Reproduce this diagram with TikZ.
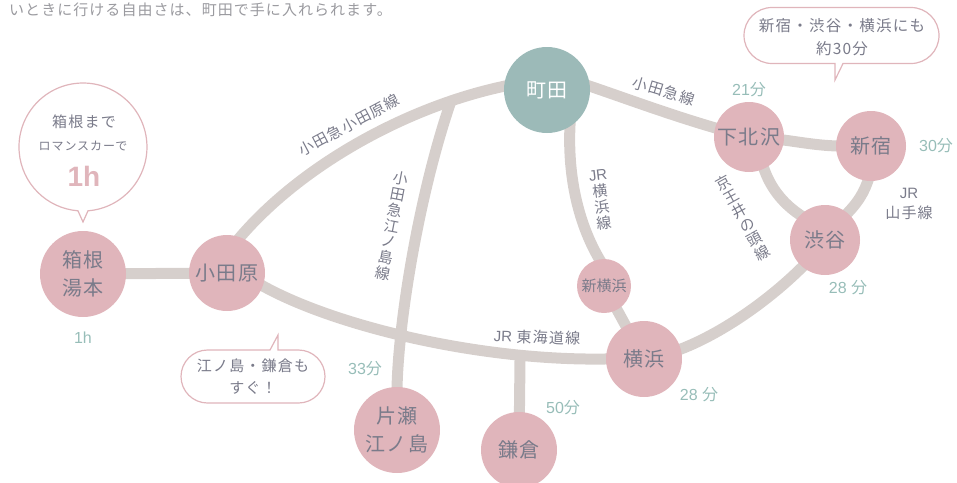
\documentclass[tikz,border=0pt]{standalone}
\usepackage{fontspec}
\setmainfont{Noto Sans CJK JP}
\newfontfamily\latinf{Liberation Sans}
\newfontfamily\jpplain{Noto Sans CJK JP}
\newfontfamily\jplabel[LetterSpace=8]{Noto Sans CJK JP}
\newfontfamily\jptop[LetterSpace=7]{Noto Sans CJK JP}
\usetikzlibrary{backgrounds}
\definecolor{stnpink}{HTML}{E0B5BB}
\definecolor{hubteal}{HTML}{9CBAB8}
\definecolor{railgrey}{HTML}{D6CFCC}
\definecolor{inktext}{HTML}{7A7B8A}
\definecolor{toptext}{HTML}{9A9A9F}
\definecolor{timeteal}{HTML}{97BDB8}
\newcommand{\fen}{{\jpplain 分}}
\tikzset{
  x=1pt,y=-1pt,
  stn/.style={circle,fill=stnpink,draw=none,inner sep=0pt,align=center,text=inktext},
  stnbig/.style={stn,minimum size=86pt,font=\fontsize{20}{28}\selectfont\jplabel},
  stnmid/.style={stn,minimum size=76pt,font=\fontsize{20}{28}\selectfont\jplabel},
  stnsm/.style={stn,minimum size=70pt,font=\fontsize{20}{28}\selectfont\jplabel},
  hub/.style={stnbig,fill=hubteal,text=white},
  rail/.style={draw=railgrey,line width=11pt,shorten <=-5pt,shorten >=-5pt},
  linelabel/.style={text=inktext,inner sep=0pt,align=center,font=\fontsize{15}{16}\selectfont\jplabel},
  timelabel/.style={text=timeteal,inner sep=0pt,font=\fontsize{16}{18}\selectfont\latinf},
  bubble/.style={draw=stnpink,line width=1.2pt,fill=white},
  bubbletext/.style={text=inktext,inner sep=0pt,align=center,font=\fontsize{15}{22}\selectfont\jplabel},
}
\begin{document}
\begin{tikzpicture}
\useasboundingbox (0,0) rectangle (957,482);
% top sentence
\node[anchor=west,text=toptext,inner sep=0pt,font=\fontsize{15}{16}\selectfont\jptop] (intro) at (9,10) {いときに行ける自由さは、町田で手に入れられます。};
% stations
\node[hub] (machida) at (547,90) {町田};
\node[stnsm] (shimo) at (749,137) {下北沢};
\node[stnsm] (shinjuku) at (871,146) {新宿};
\node[stnsm] (shibuya) at (825,240) {渋谷};
\node[stn,minimum size=54pt,font=\fontsize{15}{16}\selectfont] (shinyoko) at (604,286) {新横浜};
\node[stnmid] (yokohama) at (644,359) {横浜};
\node[stnmid] (kamakura) at (519,450) {鎌倉};
\node[stnbig] (katase) at (397,430) {片瀬\\江ノ島};
\node[stnmid] (odawara) at (227,273) {小田原};
\node[stnbig] (hakone) at (83,274) {箱根\\湯本};
\coordinate (enojunc) at (450,104);
\coordinate (kamajunc) at (520,360);
% rails
\begin{scope}[on background layer]
\draw[rail] (hakone) -- (odawara);
\draw[rail] (odawara.70) .. controls (300,165) and (410,105) .. (machida.175);
\draw[rail] (odawara.-20) .. controls (330,325) and (480,362) .. (yokohama.180);
\draw[rail] (katase.90) .. controls (398,320) and (420,190) .. (enojunc);
\draw[rail] (kamakura) -- (kamajunc);
\draw[rail] (machida.5) .. controls (625,98) and (670,115) .. (shimo.165);
\draw[rail] (machida.-58) .. controls (567,175) and (578,225) .. (shinyoko.100);
\draw[rail] (shinyoko) -- (yokohama);
\draw[rail] (yokohama.15) .. controls (720,335) and (770,300) .. (shibuya.-130);
\draw[rail] (shimo.-5) .. controls (800,142) and (820,146) .. (shinjuku.180);
\draw[rail] (shimo.-65) .. controls (768,183) and (780,203) .. (shibuya.135);
\draw[rail] (shinjuku.-95) .. controls (865,192) and (857,204) .. (shibuya.50);
\end{scope}
% line labels
\node[linelabel,rotate=28] (lodawara) at (349,125) {小田急小田原線};
\node[linelabel,rotate=-11] (lenoshima) at (392,226) {小\\田\\急\\江\\ノ\\島\\線};
\node[linelabel,rotate=-17] (lodakyu) at (664,91) {小田急線};
\node[linelabel,rotate=7] (lyokohama) at (601,200) {{\latinf JR}\\横\\浜\\線};
\node[linelabel,rotate=29] (lkeio) at (743,218) {京\\王\\井\\の\\頭\\線};
\node[linelabel] (lyamanote) at (909,204) {{\latinf JR}\\[4pt]山手線};
\node[linelabel,rotate=-2] (ltokaido) at (537,337) {{\latinf JR} 東海道線};
% times
\node[timelabel] (t1) at (749,90) {21\fen};
\node[timelabel] (t2) at (936,146) {30\fen};
\node[timelabel] (t3) at (848,288) {28 \fen};
\node[timelabel] (t4) at (699,395) {28 \fen};
\node[timelabel] (t5) at (563,408) {50\fen};
\node[timelabel] (t6) at (365,369) {33\fen};
\node[timelabel] (t7) at (83,338) {1h};
% bubbles
\draw[bubble] (88,210.8) arc[start angle=85.5,end angle=-265.5,radius=64] -- (83,222) -- cycle;
\node[bubbletext] (b1a) at (84,122) {箱根まで};
\node[bubbletext,font=\fontsize{12}{14}\selectfont\jplabel] (b1b) at (83,146) {ロマンスカーで};
\node[inner sep=0pt,text=stnpink,font=\fontsize{28}{30}\selectfont\bfseries\latinf] (b1c) at (84,176) {1h};
\draw[bubble] (207.5,350) -- (270,350) -- (278,335) -- (278,350) -- (298.5,350) arc[start angle=-90,end angle=90,radius=26.5] -- (207.5,403) arc[start angle=90,end angle=270,radius=26.5] -- cycle;
\node[bubbletext] (b2) at (253,377) {江ノ島・鎌倉も\\すぐ！};
\draw[bubble] (772,7.5) -- (911,7.5) arc[start angle=-90,end angle=90,radius=28] -- (843,63.5) -- (835,80) -- (835,63.5) -- (772,63.5) arc[start angle=90,end angle=270,radius=28] -- cycle;
\node[bubbletext,font=\fontsize{15.5}{23}\selectfont\jplabel] (b3) at (842,37) {新宿・渋谷・横浜にも\\約30分};
\end{tikzpicture}
\end{document}
